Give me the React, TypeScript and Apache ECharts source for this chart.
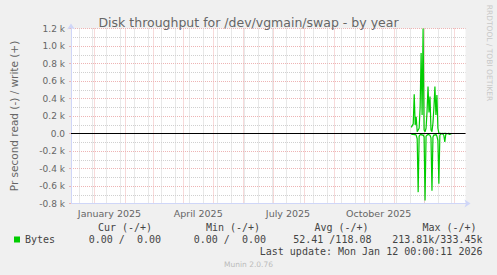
import { useEffect, useRef } from 'react';
import * as echarts from 'echarts';

const TITLE = 'Disk throughput for /dev/vgmain/swap - by year';
const Y_NAME = 'Pr second read (-) / write (+)';
const START = '2024-12-08';
const END = '2026-01-12';

const monthStarts = [
  '2025-01-01', '2025-02-01', '2025-03-01', '2025-04-01', '2025-05-01', '2025-06-01',
  '2025-07-01', '2025-08-01', '2025-09-01', '2025-10-01', '2025-11-01', '2025-12-01', '2026-01-01',
];
const minorTicks = [
  '2024-12-16', '2024-12-30', '2025-01-13', '2025-01-27', '2025-02-10', '2025-02-24',
  '2025-03-10', '2025-03-24', '2025-04-07', '2025-04-21', '2025-05-05', '2025-05-19',
  '2025-06-02', '2025-06-16', '2025-06-30', '2025-07-14', '2025-07-28', '2025-08-11',
  '2025-08-25', '2025-09-08', '2025-09-22', '2025-10-06', '2025-10-20', '2025-11-03',
  '2025-11-17', '2025-12-01', '2025-12-15', '2025-12-29',
];
const xLabelDates = ['2025-01-16', '2025-04-16', '2025-07-16', '2025-10-16'];
const xLabels = ['January 2025', 'April 2025', 'July 2025', 'October 2025'];

const days = [
  '2025-11-18', '2025-11-19', '2025-11-20', '2025-11-21', '2025-11-22', '2025-11-23',
  '2025-11-24', '2025-11-25', '2025-11-26', '2025-11-27', '2025-11-28', '2025-11-29',
  '2025-11-30', '2025-12-01', '2025-12-02', '2025-12-03', '2025-12-04', '2025-12-05',
  '2025-12-06', '2025-12-07', '2025-12-08', '2025-12-09', '2025-12-10', '2025-12-11',
  '2025-12-12', '2025-12-13', '2025-12-14', '2025-12-15', '2025-12-16', '2025-12-17',
  '2025-12-18', '2025-12-19', '2025-12-20', '2025-12-21', '2025-12-22', '2025-12-23',
  '2025-12-24', '2025-12-25', '2025-12-26', '2025-12-27', '2025-12-28', '2025-12-29',
];
const writeValues = [
  70, 90, 110, 449, 97, 192, 20, 40, 60, 300, 920, 211,
  1200, 40, 20, 60, 250, 537, 240, 422, 40, 20, 120, 300,
  537, 211, 441, 60, 5, 2, 1, 0, 1, 0, 2, 1,
  0, 0, 1, 0, 0, 0,
];
const readValues = [
  -5, -10, -8, -15, -10, -20, -60, -670, -30, -15, -10, -20,
  -15, -40, -765, -30, -20, -10, -15, -20, -50, -655, -40, -15,
  -20, -10, -30, -80, -574, -20, -5, -3, -5, -20, -95, -10,
  -2, -3, -5, -12, -3, -1,
];

const statHeaders = ['Cur (-/+)', 'Min (-/+)', 'Avg (-/+)', 'Max (-/+)'];
const statValues = ['0.00 /  0.00', '0.00 /  0.00', '52.41 /118.08', '213.81k/333.45k'];
const LEGEND_NAME = 'Bytes';
const LAST_UPDATE = 'Last update: Mon Jan 12 00:00:11 2026';
const FOOTER = 'Munin 2.0.76';
const WATERMARK = 'RRDTOOL / TOBI OETIKER';

const ts = (s: string) => Date.parse(s + 'T00:00:00Z');

export default function App() {
  const ref = useRef<HTMLDivElement>(null);
  useEffect(() => {
    if (!ref.current) return;
    const chart = echarts.init(ref.current, null, { renderer: 'svg' });
    const min = ts(START);
    const max = ts(END);
    const labelTs = xLabelDates.map(ts);
    const writeData = days.map((d, i) => [ts(d), writeValues[i]]);
    const readData = days.map((d, i) => [ts(d), readValues[i]]);
    const FONT = 'DejaVu Sans';
    const MONO = 'DejaVu Sans Mono';
    const txtColor = '#666';
    const statColor = '#444';
    const headerX = [125, 233, 341.5, 449.5];
    const valueRight = [161, 266, 371.5, 482.5];
    const red = '#eeb4b4';
    const grey = '#d0d0d0';
    const axisCol = '#CFD6F8';

    chart.setOption({
      animation: false,
      backgroundColor: '#F0F0F0',
      textStyle: { fontFamily: FONT },
      title: {
        text: TITLE,
        left: 'center',
        top: 11,
        textStyle: { fontSize: 12.5, fontWeight: 'normal', color: txtColor, fontFamily: FONT },
      },
      grid: {
        left: 65.5, top: 28.5, width: 400, height: 175,
        show: true, backgroundColor: '#FFFFFF', borderWidth: 0,
      },
      legend: {
        data: [LEGEND_NAME],
        left: 9,
        top: 229.5,
        icon: 'rect',
        itemWidth: 6,
        itemHeight: 6,
        textStyle: { fontFamily: MONO, fontSize: 10, color: statColor },
      },
      xAxis: [
        {
          type: 'value', min, max, position: 'bottom',
          axisLine: { show: false },
          axisTick: { show: false, customValues: minorTicks.map(ts) },
          axisLabel: { show: false },
          splitLine: { show: true, lineStyle: { color: grey, type: [1, 1], width: 1 } },
        },
        {
          type: 'value', min, max, position: 'bottom',
          axisLine: {
            show: true, onZero: false, lineStyle: { color: axisCol, width: 1 },
            symbol: ['none', 'arrow'], symbolSize: [6, 6], symbolOffset: [0, 5],
          },
          axisTick: { show: false, customValues: monthStarts.map(ts) },
          axisLabel: {
            customValues: labelTs,
            formatter: (v: number) => {
              const i = labelTs.indexOf(v);
              return i >= 0 ? xLabels[i] : '';
            },
            color: txtColor, fontSize: 9.5, margin: 5, fontFamily: FONT,
          },
          splitLine: { show: true, lineStyle: { color: red, type: [1, 1], width: 1 } },
        },
      ],
      yAxis: [
        {
          type: 'value', min: -800, max: 1200, interval: 100, position: 'left',
          axisLine: { show: false }, axisTick: { show: false }, axisLabel: { show: false },
          splitLine: { show: true, lineStyle: { color: grey, type: [1, 1], width: 1 } },
        },
        {
          type: 'value', min: -800, max: 1200, interval: 200, position: 'left',
          name: Y_NAME, nameLocation: 'middle', nameGap: 52,
          nameTextStyle: { color: txtColor, fontSize: 10.5, fontFamily: FONT },
          axisLine: {
            show: true, onZero: false, lineStyle: { color: axisCol, width: 1 },
            symbol: ['none', 'arrow'], symbolSize: [6, 6], symbolOffset: [0, 5],
          },
          axisTick: { show: true, length: 2, lineStyle: { color: red } },
          axisLabel: {
            formatter: (v: number) => (v === 0 ? '0.0' : (v / 1000).toFixed(1) + ' k'),
            color: txtColor, fontSize: 9, margin: 6, fontFamily: FONT,
          },
          splitLine: { show: true, lineStyle: { color: red, type: [1, 1], width: 1 } },
        },
      ],
      series: [
        {
          name: LEGEND_NAME, type: 'line', xAxisIndex: 1, yAxisIndex: 1,
          data: readData, showSymbol: false, symbol: 'none',
          lineStyle: { color: '#00CC00', width: 1.2 }, itemStyle: { color: '#00CC00' },
        },
        {
          name: LEGEND_NAME, type: 'line', xAxisIndex: 1, yAxisIndex: 1,
          data: writeData, showSymbol: false, symbol: 'none',
          lineStyle: { color: '#00CC00', width: 1.2 }, itemStyle: { color: '#00CC00' },
          markLine: {
            silent: true, symbol: ['none', 'none'],
            data: [{ yAxis: 0 }],
            lineStyle: { color: '#000000', width: 1, type: 'solid' },
            label: { show: false },
          },
        },
      ],
      graphic: [
        ...statHeaders.map((t, i) => ({
          type: 'text', x: headerX[i], y: 227.5,
          style: { text: t, fill: statColor, font: `10px "${MONO}"`, align: 'center', verticalAlign: 'middle' },
        })),
        ...statValues.map((t, i) => ({
          type: 'text', x: valueRight[i], y: 239.5,
          style: { text: t, fill: statColor, font: `10px "${MONO}"`, align: 'right', verticalAlign: 'middle' },
        })),
        {
          type: 'text', x: 482.5, y: 251.5,
          style: { text: LAST_UPDATE, fill: statColor, font: `10px "${MONO}"`, align: 'right', verticalAlign: 'middle' },
        },
        {
          type: 'text', x: 248.5, y: 264,
          style: { text: FOOTER, fill: '#bbbbbb', font: `7.5px "${FONT}"`, align: 'center', verticalAlign: 'middle' },
        },
        {
          type: 'text', x: 489, y: 53, rotation: -Math.PI / 2,
          style: { text: WATERMARK, fill: '#c8c8c8', font: `7.5px "${FONT}"`, align: 'center', verticalAlign: 'middle' },
        },
      ],
    });
    return () => chart.dispose();
  }, []);
  return (
    <div
      ref={ref}
      style={{ position: 'fixed', left: 0, top: 0, width: 497, height: 275 }}
    />
  );
}
